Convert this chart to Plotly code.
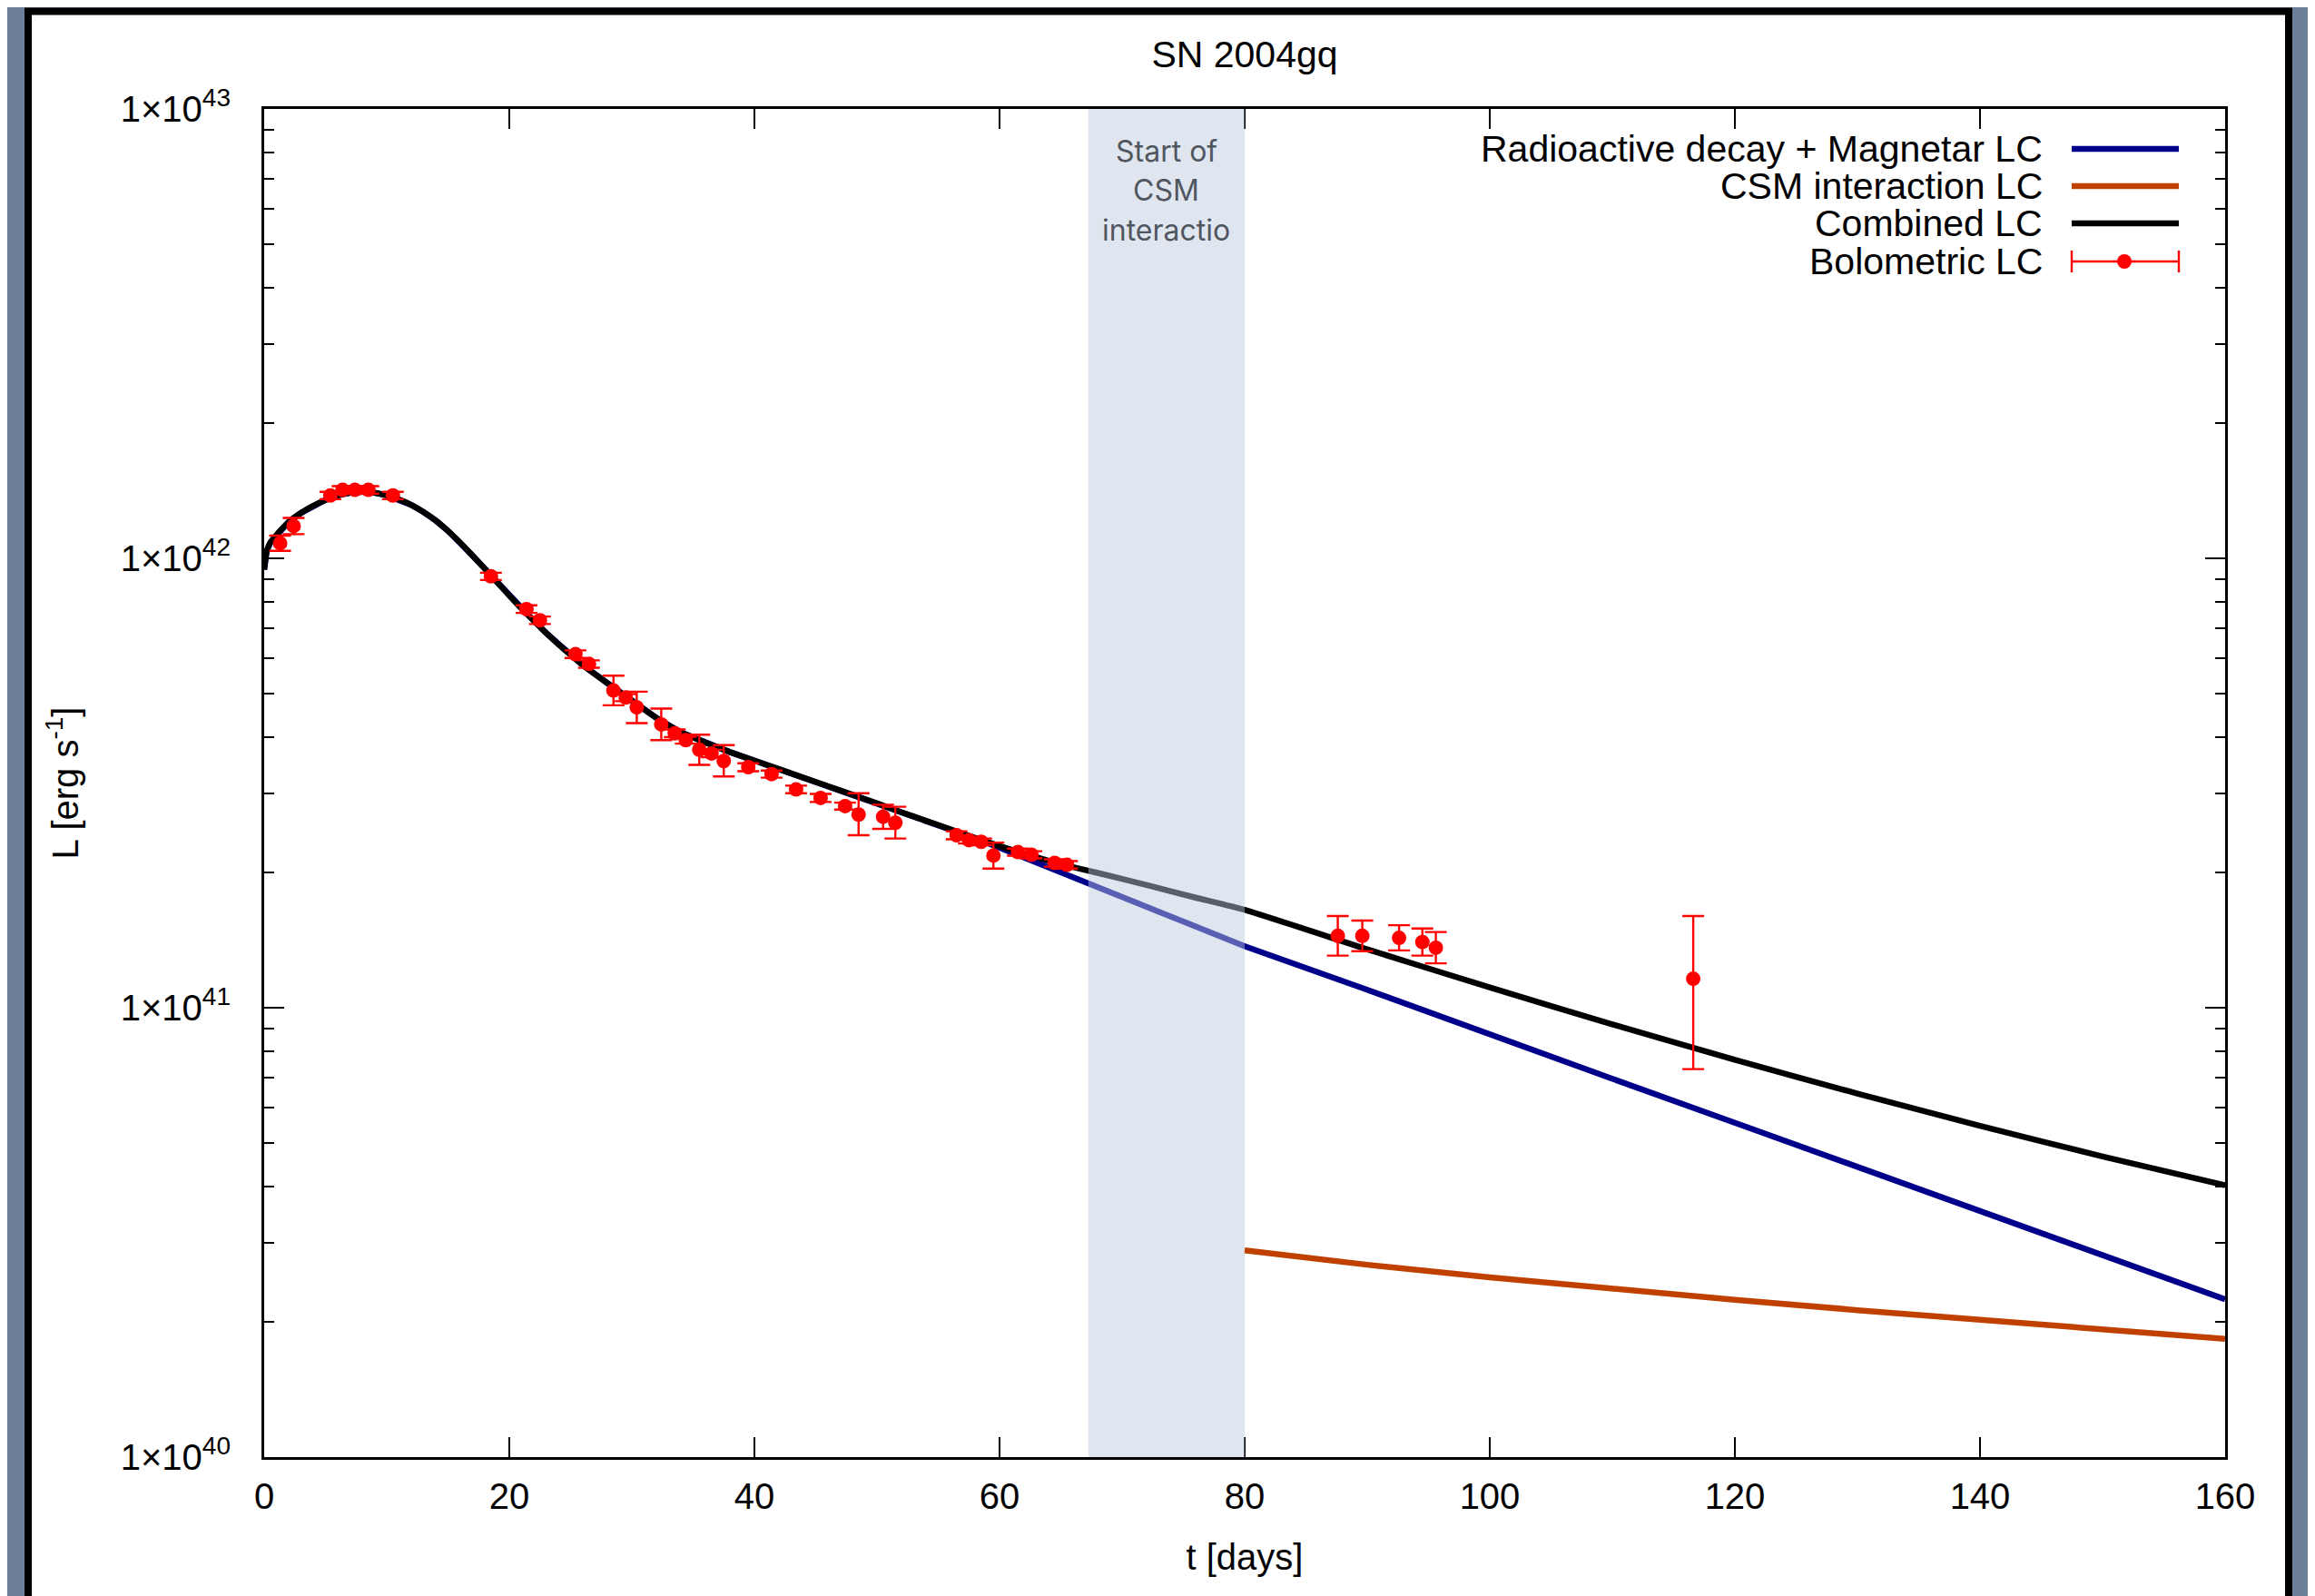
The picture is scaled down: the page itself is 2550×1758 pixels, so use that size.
import numpy as np
import plotly.graph_objects as go

# ---------------- data ----------------
# Bolometric light curve points (t in days, L in units of 1e41 erg/s)
bol_t = [1.3, 2.4, 5.4, 6.4, 7.4, 8.5, 10.5, 18.5, 21.4, 22.5, 25.4, 26.5,
         28.5, 29.5, 30.4, 32.4, 33.5, 34.4, 35.5, 36.5, 37.5, 39.5, 41.4,
         43.4, 45.4, 47.4, 48.5, 50.5, 51.5, 56.5, 57.5, 58.5, 59.5, 61.5,
         62.6, 64.5, 65.5, 87.6, 89.6, 92.6, 94.5, 95.6, 116.6]
bol_L = [10.8, 11.8, 13.8, 14.2, 14.2, 14.2, 13.8, 9.12, 7.71, 7.28, 6.12, 5.82,
         5.08, 4.90, 4.66, 4.27, 4.08, 3.94, 3.75, 3.68, 3.54, 3.43, 3.31,
         3.06, 2.93, 2.81, 2.69, 2.66, 2.58, 2.42, 2.36, 2.34, 2.18, 2.22,
         2.19, 2.10, 2.08, 1.445, 1.445, 1.43, 1.40, 1.36, 1.16]
bol_err_plus = [0.43, 0.50, 0.26, 0.27, 0.27, 0.27, 0.26, 0.17, 0.15, 0.14, 0.12, 0.11,
                0.40, 0.09, 0.39, 0.36, 0.08, 0.07, 0.30, 0.07, 0.30, 0.07, 0.06,
                0.06, 0.06, 0.05, 0.31, 0.17, 0.22, 0.05, 0.04, 0.04, 0.15, 0.04,
                0.04, 0.04, 0.04, 0.155, 0.118, 0.096, 0.101, 0.114, 0.44]
bol_err_minus = [0.41, 0.48, 0.26, 0.27, 0.27, 0.27, 0.26, 0.17, 0.15, 0.14, 0.12, 0.11,
                 0.37, 0.09, 0.36, 0.33, 0.08, 0.07, 0.28, 0.07, 0.27, 0.07, 0.06,
                 0.06, 0.06, 0.05, 0.27, 0.16, 0.20, 0.05, 0.04, 0.04, 0.14, 0.04,
                 0.04, 0.04, 0.04, 0.139, 0.109, 0.089, 0.094, 0.105, 0.43]

# Combined LC model (log10 L)
comb_t = [0, 0.2, 0.5, 1, 1.5, 2, 3, 4, 5, 6, 7, 8, 9, 10, 11, 12, 13, 14, 15, 16,
          17, 18, 19, 20, 21, 22, 23, 24, 25, 26, 27, 28, 30, 32, 34, 36, 38, 40,
          42, 44, 46, 48, 50, 52, 54, 56, 58, 60, 62, 64, 66, 68, 72, 76, 80, 90,
          100, 110, 120, 130, 140, 150, 160]
comb_logL = [41.975, 42.015, 42.035, 42.052, 42.067, 42.081, 42.101, 42.117, 42.130,
             42.140, 42.146, 42.148, 42.146, 42.140, 42.131, 42.119, 42.103, 42.084,
             42.061, 42.035, 42.006, 41.977, 41.947, 41.917, 41.888, 41.861, 41.834,
             41.809, 41.785, 41.762, 41.742, 41.722, 41.683, 41.645, 41.613, 41.590,
             41.569, 41.550, 41.531, 41.512, 41.493, 41.474, 41.455, 41.435, 41.416,
             41.397, 41.378, 41.360, 41.343, 41.327, 41.313, 41.300, 41.273, 41.245,
             41.218, 41.130, 41.045, 40.963, 40.884, 40.809, 40.737, 40.669, 40.605]

# Radioactive decay + Magnetar LC model (log10 L)
mag_t = [0, 0.2, 0.5, 1, 1.5, 2, 3, 4, 5, 6, 7, 8, 9, 10, 11, 12, 13, 14, 15, 16,
         17, 18, 19, 20, 21, 22, 23, 24, 25, 26, 27, 28, 30, 32, 34, 36, 38, 40,
         42, 44, 46, 48, 50, 52, 54, 56, 58, 60, 62, 64, 66, 68, 72, 76, 80, 90,
         100, 110, 120, 130, 140, 150, 160]
mag_logL = [41.975, 42.015, 42.035, 42.052, 42.067, 42.081, 42.101, 42.117, 42.130,
            42.140, 42.146, 42.148, 42.146, 42.140, 42.131, 42.119, 42.103, 42.084,
            42.061, 42.035, 42.006, 41.977, 41.947, 41.917, 41.888, 41.861, 41.834,
            41.809, 41.785, 41.762, 41.742, 41.722, 41.683, 41.645, 41.613, 41.590,
            41.569, 41.550, 41.531, 41.512, 41.493, 41.474, 41.455, 41.435, 41.416,
            41.397, 41.377, 41.356, 41.334, 41.311, 41.289, 41.267, 41.224, 41.181,
            41.137, 41.040, 40.940, 40.842, 40.744, 40.646, 40.548, 40.449, 40.351]

# CSM interaction LC model (log10 L)
csm_t = [80, 90, 100, 110, 120, 130, 140, 150, 160]
csm_logL = [40.460, 40.428, 40.400, 40.374, 40.350, 40.327, 40.305, 40.284, 40.263]

# CSM interaction window (days)
csm_window = [67.25, 80.0]

x_ticks = [0, 20, 40, 60, 80, 100, 120, 140, 160]
y_tick_vals = [1e40, 1e41, 1e42, 1e43]
y_tick_text = ["1×10<sup>40</sup>", "1×10<sup>41</sup>", "1×10<sup>42</sup>", "1×10<sup>43</sup>"]
y_minor_vals = [float(k) * 10.0 ** n for n in (40, 41, 42) for k in range(2, 10)]

legend_labels = ["Radioactive decay + Magnetar LC", "CSM interaction LC",
                 "Combined LC", "Bolometric LC"]
band_lines = ["Start of", "CSM", "interactio"]

# ---------------- styling ----------------
BLUE = "#00008b"
ORANGE = "#c04000"
BLACK = "#000000"
RED = "#ff0000"
FONT = "Liberation Sans, Arial, Helvetica, sans-serif"
LW = 6.5

E41 = 1e41
fig = go.Figure()

fig.add_trace(go.Scatter(x=mag_t, y=10.0 ** np.array(mag_logL), mode="lines",
                         line=dict(color=BLUE, width=LW), name=legend_labels[0]))
fig.add_trace(go.Scatter(x=csm_t, y=10.0 ** np.array(csm_logL), mode="lines",
                         line=dict(color=ORANGE, width=LW), name=legend_labels[1]))
fig.add_trace(go.Scatter(x=comb_t, y=10.0 ** np.array(comb_logL), mode="lines",
                         line=dict(color=BLACK, width=LW, shape="spline", smoothing=0.4),
                         name=legend_labels[2]))
fig.add_trace(go.Scatter(
    x=bol_t, y=np.array(bol_L) * E41, mode="markers",
    marker=dict(color=RED, size=16),
    error_y=dict(type="data", symmetric=False,
                 array=np.array(bol_err_plus) * E41,
                 arrayminus=np.array(bol_err_minus) * E41,
                 color=RED, thickness=2.4, width=12),
    name=legend_labels[3]))

# ---------------- geometry (target pixel positions, page offset corrected) ----------------
OFF = 8
W, H = 2550, 1758
PL, PR, PT, PB = 291 - OFF, 2451 - OFF, 120 - OFF, 1605 - OFF


def px_x(px):
    return (px - OFF - PL) / (PR - PL)


def px_y(py):
    return (PB - (py - OFF)) / (PB - PT)


shapes = []
shapes.append(dict(type="rect", xref="paper", yref="paper",
                   x0=px_x(31), x1=px_x(2521), y0=px_y(1820), y1=px_y(12.5),
                   fillcolor="white", line=dict(color="black", width=8),
                   layer="below"))
# CSM interaction band
shapes.append(dict(type="rect", xref="x", yref="paper",
                   x0=csm_window[0], x1=csm_window[1], y0=0, y1=1,
                   fillcolor="rgba(190,202,224,0.47)", line=dict(width=0),
                   layer="above"))

# ---------------- custom legend (gnuplot style: text left, sample right) ----------------
annotations = []
leg_text_x = px_x(2252)
leg_x0, leg_x1 = px_x(2282), px_x(2400)
leg_ys = [px_y(164), px_y(205), px_y(246), px_y(288)]
leg_colors = [BLUE, ORANGE, BLACK]
for i, lab in enumerate(legend_labels):
    annotations.append(dict(text=lab, xref="paper", yref="paper", x=leg_text_x,
                            y=leg_ys[i], xanchor="right", yanchor="middle",
                            showarrow=False, font=dict(size=41, family=FONT, color="black")))
for i, c in enumerate(leg_colors):
    shapes.append(dict(type="line", xref="paper", yref="paper", x0=leg_x0, x1=leg_x1,
                       y0=leg_ys[i], y1=leg_ys[i], line=dict(color=c, width=LW),
                       layer="above"))
# bolometric sample: horizontal error bar with end caps and dot
yb = leg_ys[3]
shapes.append(dict(type="line", xref="paper", yref="paper", x0=leg_x0, x1=leg_x1,
                   y0=yb, y1=yb, line=dict(color=RED, width=2.4), layer="above"))
for xc in (leg_x0, leg_x1):
    shapes.append(dict(type="line", xref="paper", yref="paper",
                       ysizemode="pixel", yanchor=yb, x0=xc, x1=xc, y0=-12, y1=12,
                       line=dict(color=RED, width=2.4), layer="above"))
shapes.append(dict(type="circle", xref="paper", yref="paper", xsizemode="pixel",
                   ysizemode="pixel", xanchor=px_x(2340), yanchor=yb,
                   x0=-8, x1=8, y0=-8, y1=8, fillcolor=RED, line=dict(width=0),
                   layer="above"))

# band label
band_ys = [px_y(167), px_y(210), px_y(254)]
for txt, yy in zip(band_lines, band_ys):
    annotations.append(dict(text=txt, xref="x", yref="paper",
                            x=(csm_window[0] + csm_window[1]) / 2, y=yy,
                            xanchor="center", yanchor="middle", showarrow=False,
                            font=dict(size=32, family="Inter, Noto Sans, sans-serif",
                                      color="#50565f")))

fig.update_layout(
    width=W, height=H,
    margin=dict(l=PL, r=W - PR, t=PT, b=H - PB),
    paper_bgcolor="#6b7f99",
    plot_bgcolor="white",
    showlegend=False,
    font=dict(family=FONT, size=40, color="black"),
    title=dict(text="SN 2004gq", x=0.5, xref="paper", xanchor="center",
               y=1 - (60 - OFF) / H, yref="container", yanchor="middle",
               font=dict(size=41, family=FONT, color="black")),
    shapes=shapes,
    annotations=annotations,
)

fig.update_xaxes(
    range=[0, 160], tickvals=x_ticks, ticktext=[str(v) for v in x_ticks],
    ticks="inside", ticklen=22, tickwidth=2, tickcolor="black",
    showline=True, linewidth=3, linecolor="black", mirror="ticks",
    showgrid=False, zeroline=False, ticklabelstandoff=6,
    tickfont=dict(size=40, family=FONT, color="black"),
    title=dict(text="t [days]", standoff=32, font=dict(size=40, family=FONT, color="black")),
)
fig.update_yaxes(
    type="log", range=[40, 43], tickvals=y_tick_vals, ticktext=y_tick_text,
    ticks="inside", ticklen=22, tickwidth=2, tickcolor="black",
    showline=True, linewidth=3, linecolor="black", mirror="ticks",
    showgrid=False, zeroline=False, ticklabelstandoff=26,
    tickfont=dict(size=40, family=FONT, color="black"),
    minor=dict(ticks="inside", ticklen=11, tickwidth=2, tickcolor="black",
               tickvals=y_minor_vals, showgrid=False),
    title=dict(text="L [erg s<sup>-1</sup>]", standoff=34,
               font=dict(size=40, family=FONT, color="black")),
)

fig.write_html("out.html")
